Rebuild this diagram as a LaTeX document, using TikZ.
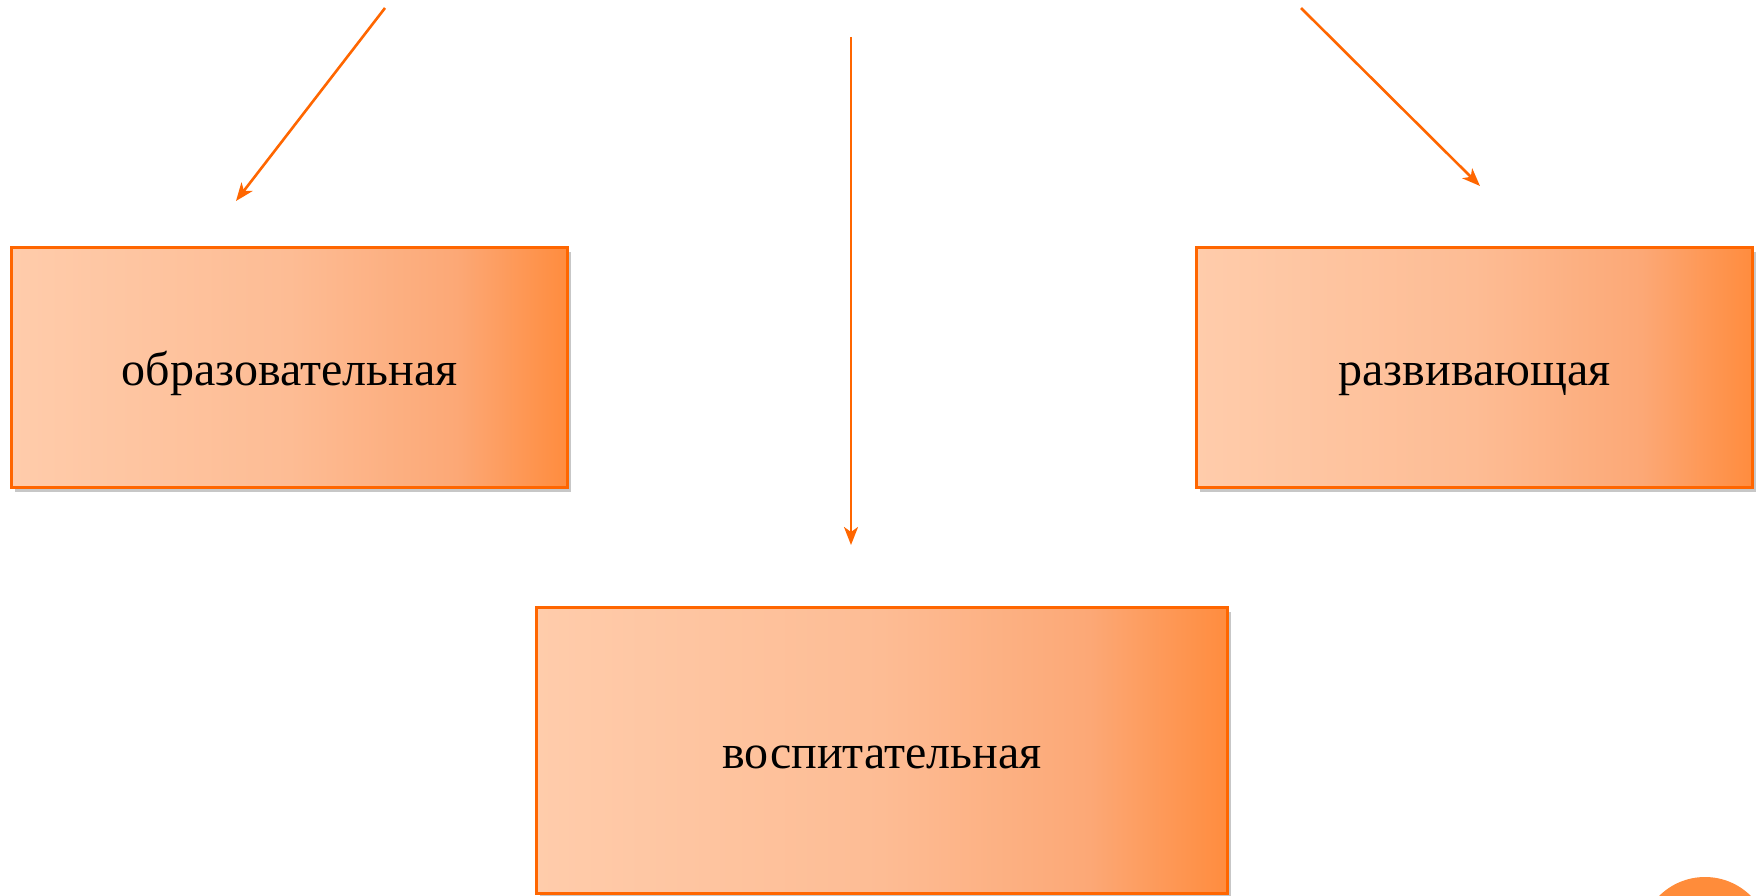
\documentclass[tikz,border=0pt]{standalone}
\usepackage{fontspec}
\setmainfont{Liberation Serif}
\usetikzlibrary{arrows.meta,shadows}
\definecolor{edgeor}{RGB}{255,102,0}
\definecolor{peachA}{RGB}{255,204,171}
\definecolor{peachB}{RGB}{253,188,148}
\definecolor{peachC}{RGB}{252,168,118}
\definecolor{peachD}{RGB}{255,140,62}
\definecolor{dotor}{RGB}{255,140,58}
\pgfdeclarehorizontalshading{boxshade}{100bp}{color(0bp)=(peachA); color(25bp)=(peachA); color(50bp)=(peachB); color(65bp)=(peachC); color(75bp)=(peachD); color(100bp)=(peachD)}
\tikzset{
  fbox/.style={draw=edgeor, line width=3pt, shading=boxshade, anchor=north west, inner sep=0pt,
    drop shadow={shadow xshift=3pt, shadow yshift=-4pt, opacity=0.4, fill=black!55},
    text height=40pt, text depth=4pt,
    font=\fontsize{48}{54}\selectfont, text=black},
  farrow/.style={draw=edgeor, line width=2.6pt, -{Stealth[length=18pt,width=14pt,inset=5pt]}}
}
\begin{document}
\begin{tikzpicture}[x=1pt,y=-1pt]
\useasboundingbox (0,0) rectangle (1760,896);
\node[fbox, minimum width=556pt, minimum height=240pt] (obr) at (10,246) {образовательная};
\node[fbox, minimum width=556pt, minimum height=240pt] (raz) at (1195,246) {развивающая};
\node[fbox, minimum width=691pt, minimum height=286pt] (vos) at (535,606) {воспитательная};
\coordinate (s1) at (385,8);
\coordinate (e1) at (236,201);
\coordinate (s2) at (851,37);
\coordinate (e2) at (851,545);
\coordinate (s3) at (1301,8);
\coordinate (e3) at (1480,186);
\draw[farrow] (s1) -- (e1);
\draw[farrow] (s2) -- (e2);
\draw[farrow] (s3) -- (e3);
\fill[dotor] (1705,942) circle (65pt);
\end{tikzpicture}
\end{document}
